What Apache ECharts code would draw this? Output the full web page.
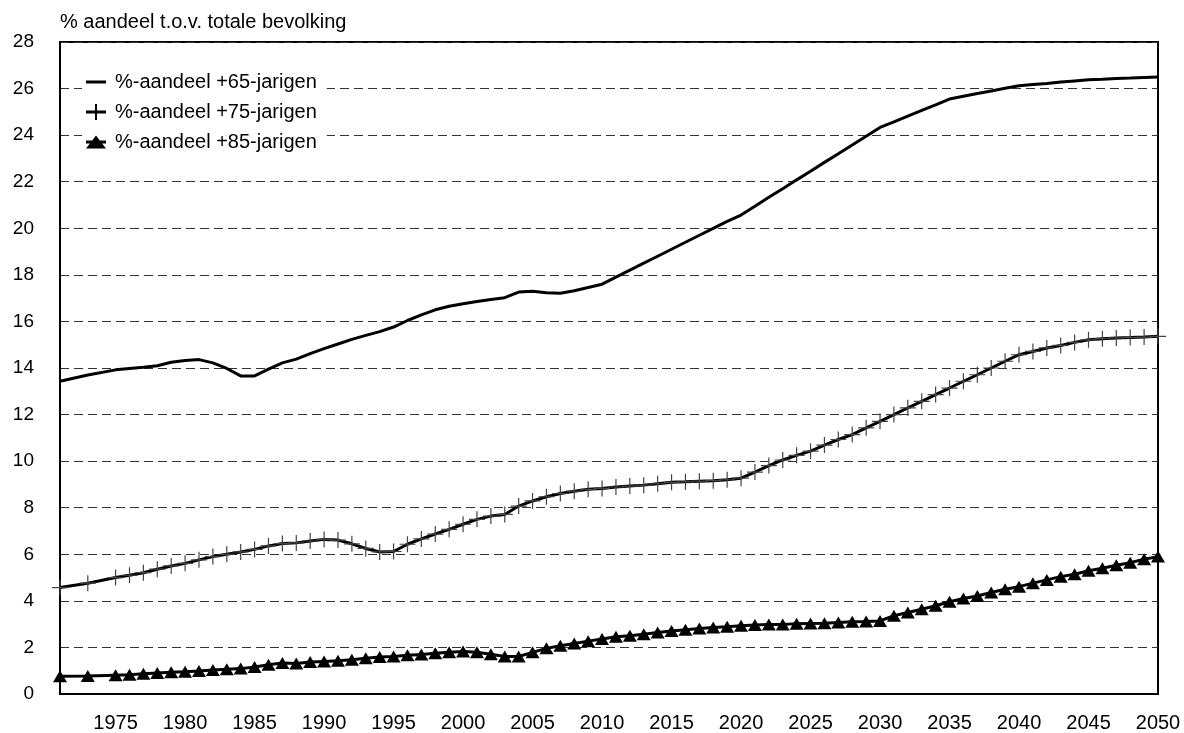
<!DOCTYPE html>
<html>
<head>
<meta charset="utf-8">
<script src="https://cdn.jsdelivr.net/npm/echarts@6/dist/echarts.min.js"></script>
<style>
  html, body { margin: 0; padding: 0; background: #fff; }
  #chart { width: 1184px; height: 733px; }
</style>
</head>
<body>
<div id="chart"></div>
<script>
// Years on the horizontal axis (1972 and 1974 have no observation)
const years = [
  1971, 1972, 1973, 1974, 1975, 1976, 1977, 1978, 1979, 1980,
  1981, 1982, 1983, 1984, 1985, 1986, 1987, 1988, 1989, 1990,
  1991, 1992, 1993, 1994, 1995, 1996, 1997, 1998, 1999, 2000,
  2001, 2002, 2003, 2004, 2005, 2006, 2007, 2008, 2009, 2010,
  2011, 2012, 2013, 2014, 2015, 2016, 2017, 2018, 2019, 2020,
  2021, 2022, 2023, 2024, 2025, 2026, 2027, 2028, 2029, 2030,
  2031, 2032, 2033, 2034, 2035, 2036, 2037, 2038, 2039, 2040,
  2041, 2042, 2043, 2044, 2045, 2046, 2047, 2048, 2049, 2050
];

// Share of people aged 65+ in the total population (%)
const share65 = [
  13.43, null, 13.70, null, 13.92, 13.98, 14.03, 14.10, 14.25, 14.32,
  14.36, 14.22, 13.98, 13.66, 13.66, 13.95, 14.22, 14.38, 14.62, 14.83,
  15.03, 15.23, 15.40, 15.56, 15.76, 16.04, 16.28, 16.50, 16.65, 16.76,
  16.86, 16.94, 17.02, 17.26, 17.30, 17.23, 17.21, 17.32, 17.46, 17.60,
  17.90, 18.20, 18.50, 18.80, 19.10, 19.40, 19.70, 20.00, 20.30, 20.57,
  20.95, 21.33, 21.70, 22.08, 22.45, 22.83, 23.20, 23.58, 23.95, 24.33,
  24.57, 24.82, 25.06, 25.30, 25.55, 25.67, 25.79, 25.90, 26.01, 26.12,
  26.17, 26.22, 26.28, 26.33, 26.38, 26.40, 26.43, 26.45, 26.48, 26.50
];

// Share of people aged 75+ (%)
const share75 = [
  4.57, null, 4.76, null, 5.00, 5.10, 5.21, 5.36, 5.50, 5.61,
  5.76, 5.90, 6.00, 6.10, 6.21, 6.36, 6.46, 6.49, 6.57, 6.64,
  6.61, 6.45, 6.25, 6.10, 6.12, 6.43, 6.66, 6.87, 7.07, 7.29,
  7.50, 7.64, 7.71, 8.07, 8.29, 8.47, 8.61, 8.71, 8.79, 8.83,
  8.89, 8.93, 8.97, 9.03, 9.09, 9.11, 9.14, 9.16, 9.20, 9.27,
  9.53, 9.81, 10.05, 10.25, 10.43, 10.69, 10.93, 11.14, 11.43, 11.71,
  12.00, 12.29, 12.57, 12.86, 13.14, 13.43, 13.71, 14.00, 14.29, 14.57,
  14.71, 14.86, 14.97, 15.10, 15.21, 15.26, 15.29, 15.31, 15.33, 15.36
];

// Share of people aged 85+ (%)
const share85 = [
  0.76, null, 0.77, null, 0.81, 0.83, 0.87, 0.90, 0.93, 0.96,
  0.99, 1.03, 1.06, 1.09, 1.16, 1.26, 1.33, 1.31, 1.37, 1.40,
  1.43, 1.47, 1.54, 1.59, 1.61, 1.66, 1.70, 1.75, 1.79, 1.83,
  1.79, 1.71, 1.61, 1.61, 1.79, 1.96, 2.07, 2.17, 2.27, 2.36,
  2.46, 2.50, 2.57, 2.64, 2.71, 2.76, 2.81, 2.86, 2.89, 2.93,
  2.96, 2.99, 2.99, 3.02, 3.03, 3.04, 3.07, 3.10, 3.11, 3.14,
  3.36, 3.50, 3.64, 3.79, 3.96, 4.10, 4.21, 4.36, 4.50, 4.61,
  4.76, 4.90, 5.04, 5.14, 5.29, 5.40, 5.53, 5.64, 5.79, 5.90
];

const seriesNames = ['%-aandeel +65-jarigen', '%-aandeel +75-jarigen', '%-aandeel +85-jarigen'];
const yTitle = '% aandeel t.o.v. totale bevolking';

const FONT = "'Liberation Sans', Arial, sans-serif";

// thin plus sign used as the point marker of the 75+ line
const plusMarker = 'path://M7.4,0 H8.6 V7.4 H16 V8.6 H8.6 V16 H7.4 V8.6 H0 V7.4 H7.4 Z';
// legend icons
const iconDash = 'path://M0,6.5 H20 V9.5 H0 Z';
const iconPlus = 'path://M0,6.5 H9 V0 H11 V6.5 H20 V9.5 H11 V16 H9 V9.5 H0 Z';
const iconTri = 'path://M10,0 L20,13 L0,13 Z M0,5 H20 V8 H0 Z';

const chart = echarts.init(document.getElementById('chart'), null, { renderer: 'canvas' });

chart.setOption({
  animation: false,
  backgroundColor: '#fff',
  title: {
    text: yTitle,
    left: 60,
    top: 12,
    padding: 0,
    textStyle: { fontFamily: FONT, fontSize: 20, fontWeight: 'normal', color: '#000' }
  },
  legend: {
    orient: 'vertical',
    left: 82,
    top: 64,
    padding: [8, 10, 8, 4],
    backgroundColor: '#fff',
    itemWidth: 20,
    itemHeight: 16,
    itemGap: 10,
    textStyle: { fontFamily: FONT, fontSize: 20, color: '#000', padding: [0, 0, 0, 4] },
    data: [
      { name: seriesNames[0], icon: iconDash, itemStyle: { color: '#000' } },
      { name: seriesNames[1], icon: iconPlus, itemStyle: { color: '#000' } },
      { name: seriesNames[2], icon: iconTri, itemStyle: { color: '#000' } }
    ]
  },
  grid: {
    left: 60,
    right: 26,
    top: 42,
    bottom: 38,
    show: true,
    borderColor: '#000',
    borderWidth: 2,
    backgroundColor: 'transparent'
  },
  xAxis: {
    type: 'category',
    data: years,
    boundaryGap: false,
    axisLine: { lineStyle: { color: '#000', width: 2 } },
    axisTick: { show: false },
    axisLabel: {
      interval: (idx, val) => Number(val) % 5 === 0,
      fontFamily: FONT,
      fontSize: 20,
      color: '#000',
      margin: 19
    },
    splitLine: { show: false }
  },
  yAxis: {
    type: 'value',
    min: 0,
    max: 28,
    interval: 2,
    axisLine: { show: true, lineStyle: { color: '#000', width: 2 } },
    axisTick: { show: false },
    axisLabel: { fontFamily: FONT, fontSize: 19, color: '#000', margin: 26 },
    splitLine: { lineStyle: { color: '#333', width: 1, type: [9, 5] } }
  },
  series: [
    {
      name: seriesNames[0],
      type: 'line',
      data: share65,
      connectNulls: true,
      symbol: 'none',
      lineStyle: { color: '#000', width: 3 },
      itemStyle: { color: '#000' }
    },
    {
      name: seriesNames[1],
      type: 'line',
      data: share75,
      connectNulls: true,
      symbol: plusMarker,
      symbolSize: 16,
      showAllSymbol: true,
      lineStyle: { color: '#000', width: 3 },
      itemStyle: { color: '#444' }
    },
    {
      name: seriesNames[2],
      type: 'line',
      data: share85,
      connectNulls: true,
      symbol: 'triangle',
      symbolSize: [14, 12],
      showAllSymbol: true,
      lineStyle: { color: '#000', width: 3 },
      itemStyle: { color: '#000' }
    }
  ]
});
</script>
</body>
</html>
